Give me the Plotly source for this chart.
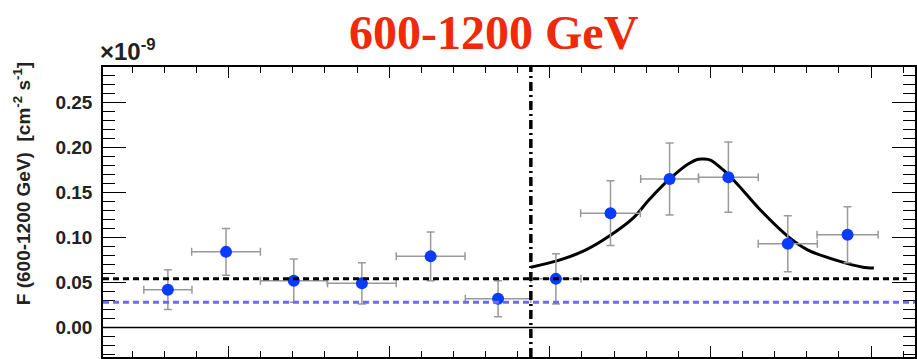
import plotly.graph_objects as go

# ---- data (x in arbitrary time units: major tick = 5, minor = 1) ----
pt_x = [3.11, 4.92, 7.03, 9.15, 11.29, 13.39, 15.19, 16.89, 18.73, 20.56, 22.41, 24.27]
pt_xerr = [0.75, 1.07, 1.04, 1.07, 1.07, 1.02, 0.78, 0.93, 0.90, 0.93, 0.92, 0.95]
pt_y = [0.042, 0.084, 0.052, 0.049, 0.079, 0.032, 0.054, 0.127, 0.165, 0.167, 0.093, 0.103]
pt_yerr = [0.022, 0.026, 0.024, 0.023, 0.027, 0.020, 0.028, 0.036, 0.040, 0.039, 0.031, 0.031]

curve_x = [14.41, 15.22, 16.06, 16.83, 17.61, 18.07, 18.73, 19.32, 19.63, 20.0,
           20.40, 20.87, 21.49, 22.42, 23.04, 23.98, 24.75, 25.09]
curve_y = [0.067, 0.074, 0.085, 0.101, 0.122, 0.141, 0.165, 0.182, 0.187, 0.186,
           0.175, 0.158, 0.133, 0.101, 0.086, 0.074, 0.067, 0.066]

level_black = 0.054
level_blue = 0.028
flare_x = 14.41

x_range = [1.09, 26.37]
y_range = [-0.0328, 0.2894]
y_ticks = [0.00, 0.05, 0.10, 0.15, 0.20, 0.25]

fig = go.Figure()

fig.add_trace(go.Scatter(
    x=curve_x, y=curve_y, mode="lines",
    line=dict(color="black", width=3, shape="spline", smoothing=0.7),
    hoverinfo="skip", showlegend=False))

fig.add_trace(go.Scatter(
    x=pt_x, y=pt_y, mode="markers",
    marker=dict(color="#0a3cff", size=12),
    error_x=dict(type="data", array=pt_xerr, color="#9a9a9a", thickness=1.5, width=4),
    error_y=dict(type="data", array=pt_yerr, color="#9a9a9a", thickness=1.5, width=4),
    showlegend=False))

shapes = [
    dict(type="line", xref="paper", x0=0, x1=1, yref="y", y0=0, y1=0,
         line=dict(color="black", width=1.5)),
    dict(type="line", xref="paper", x0=0, x1=0.99, yref="y", y0=level_black, y1=level_black,
         line=dict(color="black", width=3, dash="6px,4px")),
    dict(type="line", xref="paper", x0=0, x1=1, yref="y", y0=level_blue, y1=level_blue,
         line=dict(color="#6b6bf0", width=3, dash="6px,4px")),
    dict(type="line", xref="x", x0=flare_x, x1=flare_x, yref="paper", y0=0, y1=1,
         line=dict(color="black", width=3.5, dash="9px,4px,2px,4px")),
]

fig.update_layout(
    width=917, height=359,
    margin=dict(l=103, r=0, t=67, b=2),
    paper_bgcolor="white", plot_bgcolor="white",
    shapes=shapes,
    font=dict(family="Liberation Sans", color="black"),
    xaxis=dict(range=x_range, showgrid=False, zeroline=False,
               showline=True, linecolor="black", linewidth=1.5, mirror="ticks",
               ticks="inside", ticklen=11, tickwidth=1.2, tickcolor="black",
               tick0=0, dtick=5, showticklabels=False,
               minor=dict(ticks="inside", ticklen=6, dtick=1, tick0=0,
                          tickcolor="black", tickwidth=1.2)),
    yaxis=dict(range=y_range, showgrid=False, zeroline=False,
               showline=True, linecolor="black", linewidth=1.5, mirror="ticks",
               ticks="inside", ticklen=23, tickwidth=1.2, tickcolor="black",
               tickvals=y_ticks, tickformat=".2f",
               tickfont=dict(family="Liberation Sans", size=19, color="#222", weight="bold"),
               ticklabelstandoff=5,
               minor=dict(ticks="inside", ticklen=12, dtick=0.01, tick0=0,
                          tickcolor="black", tickwidth=1.2)),
    annotations=[
        dict(text="<b>600-1200 GeV</b>", xref="paper", yref="paper",
             x=(495 - 103) / 814, y=(357 - 32) / 290, xanchor="center", yanchor="middle",
             showarrow=False,
             font=dict(family="Liberation Serif", size=48, color="#ee2a0a")),
        dict(text="×10<sup>-9</sup>", xref="paper", yref="paper",
             x=-5 / 814, y=(357 - 67) / 290, xanchor="left", yanchor="bottom",
             showarrow=False,
             font=dict(family="Liberation Sans", size=24, color="#222", weight="bold")),
        dict(text="<b>F (600-1200 GeV)  [cm<sup>-2</sup> s<sup>-1</sup>]</b>",
             xref="paper", yref="paper", textangle=-90,
             x=-81 / 814, y=(357 - 184) / 290, xanchor="center", yanchor="middle",
             showarrow=False,
             font=dict(family="Liberation Sans", size=19, color="#222")),
    ],
)

fig.write_html("out.html")
